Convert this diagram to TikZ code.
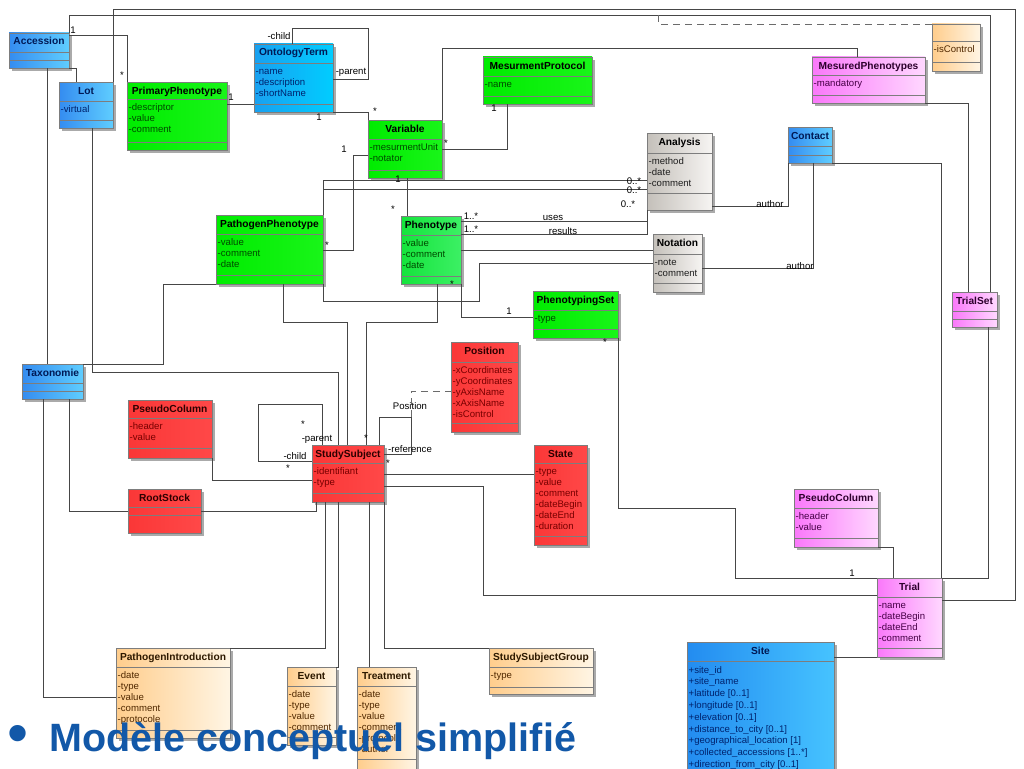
\documentclass[tikz,border=0pt]{standalone}
\usepackage{fontspec}
\setmainfont{Liberation Sans}
\usetikzlibrary{calc}
\definecolor{linec}{RGB}{70,70,70}
\definecolor{bordc}{RGB}{125,125,125}
\definecolor{shad}{RGB}{170,170,170}
\definecolor{blL}{RGB}{52,140,240}\definecolor{blR}{RGB}{95,205,255}
\definecolor{otL}{RGB}{25,160,240}\definecolor{otR}{RGB}{0,205,255}
\definecolor{siL}{RGB}{35,140,240}\definecolor{siR}{RGB}{70,195,255}
\definecolor{grL}{RGB}{0,236,0}\definecolor{grR}{RGB}{25,245,25}
\definecolor{phL}{RGB}{20,228,60}\definecolor{phR}{RGB}{60,240,100}
\definecolor{gyL}{RGB}{196,192,186}\definecolor{gyR}{RGB}{246,244,242}
\definecolor{rdL}{RGB}{250,55,55}\definecolor{rdR}{RGB}{255,72,72}
\definecolor{pkL}{RGB}{250,120,250}\definecolor{pkR}{RGB}{255,215,255}
\definecolor{pcL}{RGB}{255,205,140}\definecolor{pcR}{RGB}{255,245,228}
\definecolor{blt}{RGB}{0,25,85}\definecolor{bla}{RGB}{0,35,110}
\colorlet{ott}{blt}\colorlet{ota}{bla}\colorlet{sit}{blt}\colorlet{sia}{bla}
\definecolor{grt}{RGB}{0,0,0}\definecolor{gra}{RGB}{0,75,0}
\colorlet{pht}{grt}\colorlet{pha}{gra}
\definecolor{gyt}{RGB}{0,0,0}\definecolor{gya}{RGB}{30,30,30}
\definecolor{rdt}{RGB}{45,0,0}\definecolor{rda}{RGB}{120,0,0}
\definecolor{pkt}{RGB}{45,0,45}\definecolor{pka}{RGB}{70,0,70}
\definecolor{pct}{RGB}{45,25,0}\definecolor{pca}{RGB}{80,40,0}
\definecolor{ttlblue}{RGB}{18,88,168}
\tikzset{
  blbox/.style={left color=blL,right color=blR},
  otbox/.style={left color=otL,right color=otR},
  sibox/.style={left color=siL,right color=siR},
  grbox/.style={left color=grL,right color=grR},
  phbox/.style={left color=phL,right color=phR},
  gybox/.style={left color=gyL,right color=gyR},
  rdbox/.style={left color=rdL,right color=rdR},
  pkbox/.style={left color=pkL,right color=pkR},
  pcbox/.style={left color=pcL,right color=pcR},
  ttl/.style={font=\bfseries\fontsize{10.2}{12}\selectfont, inner sep=0pt},
  att/.style={font=\fontsize{9.6}{11}\selectfont, align=left, inner sep=0pt},
  conn/.style={draw=linec, line width=0.8pt},
  assoc/.style={draw=linec!80, line width=0.8pt, dash pattern=on 7pt off 5pt},
  lbl/.style={font=\fontsize{9.6}{10}\selectfont, inner sep=0pt, text=black}
}
% \cls{name}{prefix}{x1}{y1}{x2}{y2}{header bottom}{attr bottom}{title}
\newcommand\cls[9]{%
  \fill[shad] (#3+3,#4+3) rectangle (#5+3,#6+3);
  \node[#2box, draw=bordc, line width=0.6pt, rectangle, inner sep=0pt, outer sep=0pt,
        anchor=north west, minimum width={(#5-#3)*1pt}, minimum height={(#6-#4)*1pt}] (#1) at (#3,#4) {};
  \draw[bordc, line width=0.5pt] (#3,#7) -- (#5,#7) (#3,#8) -- (#5,#8);
  \coordinate (#1-h) at (#3,#7);
  \node[ttl, text=#2t, anchor=base] (#1-t) at ({(#3+#5)/2},#4+12) {#9};
}
\newcommand\atr[3]{\node[att, text=#2a, anchor=north west] (#1-a) at ($(#1-h)+(1.5,4)$) {\vphantom{d}#3};}
\begin{document}
\begin{tikzpicture}[x=1pt,y=-1pt]
\useasboundingbox[fill=white] (0,0) rectangle (1024,768);

% ---------------- classes ----------------
\cls{Accession}{bl}{9}{33}{69}{68}{52}{60}{Accession}
\cls{Lot}{bl}{59}{82}{113}{128}{101}{120}{Lot}
\atr{Lot}{bl}{-virtual}
\cls{PrimaryPhenotype}{gr}{127}{82}{227}{150}{99}{142}{PrimaryPhenotype}
\atr{PrimaryPhenotype}{gr}{-descriptor\\-value\\-comment}
\cls{OntologyTerm}{ot}{254}{44}{333}{112}{63}{104}{OntologyTerm}
\atr{OntologyTerm}{ot}{-name\\-description\\-shortName}
\cls{MesurmentProtocol}{gr}{483}{57}{592}{104}{76}{96}{MesurmentProtocol}
\atr{MesurmentProtocol}{gr}{-name}
\cls{Variable}{gr}{368}{120}{442}{178}{139}{170}{Variable}
\atr{Variable}{gr}{-mesurmentUnit\\-notator}
\cls{Analysis}{gy}{647}{133}{712}{210}{153}{193}{Analysis}
\atr{Analysis}{gy}{-method\\-date\\-comment}
\cls{Contact}{bl}{788}{127}{832}{163}{146}{155}{Contact}
\cls{MesuredPhenotypes}{pk}{812}{57}{925}{103}{75}{95}{MesuredPhenotypes}
\atr{MesuredPhenotypes}{pk}{-mandatory}
\cls{isControl}{pc}{932}{24}{980}{71}{41}{62}{}
\atr{isControl}{pc}{-isControl}
\cls{PathogenPhenotype}{gr}{216}{215}{323}{284}{234}{275}{PathogenPhenotype}
\atr{PathogenPhenotype}{gr}{-value\\-comment\\-date}
\cls{Phenotype}{ph}{401}{216}{461}{284}{235}{276}{Phenotype}
\atr{Phenotype}{ph}{-value\\-comment\\-date}
\cls{Notation}{gy}{653}{234}{702}{292}{254}{283}{Notation}
\atr{Notation}{gy}{-note\\-comment}
\cls{PhenotypingSet}{gr}{533}{291}{618}{338}{310}{329}{PhenotypingSet}
\atr{PhenotypingSet}{gr}{-type}
\cls{TrialSet}{pk}{952}{292}{997}{327}{311}{319}{TrialSet}
\cls{Taxonomie}{bl}{22}{364}{83}{399}{383}{391}{Taxonomie}
\cls{Position}{rd}{451}{342}{518}{432}{362}{423}{Position}
\atr{Position}{rd}{-xCoordinates\\-yCoordinates\\-yAxisName\\-xAxisName\\-isControl}
\cls{PseudoColumnA}{rd}{128}{400}{212}{458}{418}{448}{PseudoColumn}
\atr{PseudoColumnA}{rd}{-header\\-value}
\cls{StudySubject}{rd}{312}{445}{384}{502}{463}{493}{StudySubject}
\atr{StudySubject}{rd}{-identifiant\\-type}
\cls{State}{rd}{534}{445}{587}{545}{463}{536}{State}
\atr{State}{rd}{-type\\-value\\-comment\\-dateBegin\\-dateEnd\\-duration}
\cls{RootStock}{rd}{128}{489}{201}{533}{507}{515}{RootStock}
\cls{PseudoColumnB}{pk}{794}{489}{878}{547}{508}{538}{PseudoColumn}
\atr{PseudoColumnB}{pk}{-header\\-value}
\cls{Trial}{pk}{877}{578}{942}{657}{597}{648}{Trial}
\atr{Trial}{pk}{-name\\-dateBegin\\-dateEnd\\-comment}
\cls{Site}{si}{687}{642}{834}{800}{661}{790}{Site}
\node[att, font=\fontsize{9.6}{11.8}\selectfont, text=sia, anchor=north west] (Site-a) at ($(Site-h)+(1.5,5)$)
  {\vphantom{d}+site\_id\\+site\_name\\+latitude [0..1]\\+longitude [0..1]\\+elevation [0..1]\\+distance\_to\_city [0..1]\\+geographical\_location [1]\\+collected\_accessions [1..*]\\+direction\_from\_city [0..1]};
\cls{PathogenIntroduction}{pc}{116}{648}{230}{738}{667}{730}{PathogenIntroduction}
\atr{PathogenIntroduction}{pc}{-date\\-type\\-value\\-comment\\-protocole}
\cls{Event}{pc}{287}{667}{336}{745}{686}{737}{Event}
\atr{Event}{pc}{-date\\-type\\-value\\-comment}
\cls{Treatment}{pc}{357}{667}{416}{780}{686}{759}{Treatment}
\atr{Treatment}{pc}{-date\\-type\\-value\\-comment\\-protocole\\-author}
\cls{StudySubjectGroup}{pc}{489}{648}{593}{694}{667}{687}{StudySubjectGroup}
\atr{StudySubjectGroup}{pc}{-type}

% ---------------- connectors ----------------
\draw[conn] (Accession.east |- 0,35) -- (127,35) -- (PrimaryPhenotype.north west);
\draw[conn] (Accession.north east) -- (69,15) -- (990,15) -- (TrialSet.north -| 990,0);
\draw[conn] (Lot.north east) -- (113,9) -- (1015,9) -- (1015,600) -- (Trial.east |- 0,600);
\draw[conn] (Accession.south east) -- (76,68) -- (Lot.north -| 76,0);
\draw[conn] (Accession.south -| 47,0) -- (Taxonomie.north -| 47,0);
\draw[conn] (Lot.south -| 92,0) -- (92,372) -- (338,372) -- (StudySubject.north -| 338,0);
\draw[conn] (PrimaryPhenotype.east |- 0,104) -- (OntologyTerm.west |- 0,104);
\draw[conn] (OntologyTerm.north -| 292,0) -- (292,28) -- (368,28) -- (368,79) -- (OntologyTerm.east |- 0,79);
\draw[conn] (OntologyTerm.south east) -- (368,112) -- (Variable.north west);
\draw[conn] (Variable.north east) -- (442,48) -- (857,48) -- (MesuredPhenotypes.north -| 857,0);
\draw[conn] (Variable.east |- 0,149) -- (507,149) -- (MesurmentProtocol.south -| 507,0);
\draw[conn] (Variable.west |- 0,155) -- (353,155) -- (353,250) -- (PathogenPhenotype.east |- 0,250);
\draw[conn] (Variable.south -| 407,0) -- (Phenotype.north -| 407,0);
\draw[conn] (Analysis.west |- 0,180) -- (323,180) -- (PathogenPhenotype.north east);
\draw[conn] (Analysis.west |- 0,189) -- (323,189) -- (PathogenPhenotype.north east);
\draw[conn] (Phenotype.east |- 0,221) -- (647,221) -- (Analysis.south west);
\draw[conn] (Phenotype.east |- 0,234) -- (647,234) -- (Analysis.south west);
\draw[conn] (Phenotype.east |- 0,250) -- (Notation.west |- 0,250);
\draw[conn] (PathogenPhenotype.south east) -- (323,301) -- (479,301) -- (479,263) -- (Notation.west |- 0,263);
\draw[conn] (Phenotype.south east) -- (461,317) -- (PhenotypingSet.west |- 0,317);
\draw[conn] (Phenotype.south -| 437,0) -- (437,322) -- (366,322) -- (StudySubject.north -| 366,0);
\draw[conn] (PathogenPhenotype.south -| 283,0) -- (283,322) -- (347,322) -- (StudySubject.north -| 347,0);
\draw[conn] (Taxonomie.north east) -- (163,364) -- (163,284) -- (PathogenPhenotype.south west);
\draw[conn] (Taxonomie.south -| 69,0) -- (69,511) -- (RootStock.west |- 0,511);
\draw[conn] (RootStock.east |- 0,511) -- (316,511) -- (StudySubject.south -| 316,0);
\draw[conn] (Taxonomie.south -| 43,0) -- (43,697) -- (PathogenIntroduction.west |- 0,697);
\draw[conn] (PseudoColumnA.south east) -- (212,480) -- (StudySubject.west |- 0,480);
\draw[conn] (StudySubject.north -| 322,0) -- (322,404) -- (258,404) -- (258,461) -- (StudySubject.west |- 0,461);
\draw[conn] (StudySubject.north -| 379,0) -- (379,417) -- (411,417) -- (411,454) -- (StudySubject.east |- 0,454);
\draw[assoc] (411,417) -- (411,391) -- (Position.west |- 0,391);
\draw[conn] (StudySubject.east |- 0,474) -- (State.west |- 0,474);
\draw[conn] (StudySubject.east |- 0,486) -- (483,486) -- (483,595) -- (Trial.west |- 0,595);
\draw[conn] (PhenotypingSet.south east) -- (618,508) -- (735,508) -- (735,578) -- (Trial.north west);
\draw[conn] (StudySubject.south -| 325,0) -- (325,648) -- (PathogenIntroduction.north east);
\draw[conn] (StudySubject.south -| 338,0) -- (338,667) -- (Event.north east);
\draw[conn] (StudySubject.south -| 369,0) -- (Treatment.north -| 369,0);
\draw[conn] (StudySubject.south east) -- (384,648) -- (StudySubjectGroup.north west);
\draw[conn] (Site.east |- 0,657) -- (Trial.south west);
\draw[conn] (PseudoColumnB.south east) -- (893,547) -- (Trial.north -| 893,0);
\draw[conn] (TrialSet.south -| 988,0) -- (988,578) -- (Trial.north east);
\draw[conn] (MesuredPhenotypes.south east) -- (968,103) -- (TrialSet.north -| 968,0);
\draw[conn] (Contact.south east) -- (941,163) -- (Trial.north -| 941,0);
\draw[conn] (Contact.south west) -- (788,206) -- (Analysis.east |- 0,206);
\draw[conn] (Contact.south -| 813,0) -- (813,268) -- (Notation.east |- 0,268);
\coordinate (dashstart) at (658,15);
\draw[assoc] (dashstart) -- (658,24) -- (isControl.north west);

% ---------------- labels ----------------
\node[lbl] (l1) at (73,30) {1};
\node[lbl] (l2) at (122,75) {*};
\node[lbl] (l3) at (231,97) {1};
\node[lbl] (l4) at (279,36) {-child};
\node[lbl] (l5) at (351,72) {-parent};
\node[lbl] (l6) at (319,117) {1};
\node[lbl] (l7) at (375,111) {*};
\node[lbl] (l8) at (494,108) {1};
\node[lbl] (l9) at (446,143) {*};
\node[lbl] (l10) at (344,149) {1};
\node[lbl] (l11) at (327,245) {*};
\node[lbl] (l12) at (398,179) {1};
\node[lbl] (l13) at (393,209) {*};
\node[lbl] (l14) at (634,181) {0..*};
\node[lbl] (l15) at (634,190) {0..*};
\node[lbl] (l16) at (628,204) {0..*};
\node[lbl] (l17) at (471,216) {1..*};
\node[lbl] (l18) at (471,229) {1..*};
\node[lbl] (l19) at (553,218) {uses};
\node[lbl] (l20) at (563,231) {results};
\node[lbl] (l21) at (770,204) {author};
\node[lbl] (l22) at (800,266) {author};
\node[lbl] (l23) at (452,284) {*};
\node[lbl] (l24) at (509,311) {1};
\node[lbl] (l25) at (605,342) {*};
\node[lbl] (l26) at (852,573) {1};
\node[lbl] (l27) at (410,406) {Position};
\node[lbl] (l28) at (410,449) {-reference};
\node[lbl] (l29) at (388,463) {*};
\node[lbl] (l30) at (366,438) {*};
\node[lbl] (l31) at (303,424) {*};
\node[lbl] (l32) at (317,439) {-parent};
\node[lbl] (l33) at (295,456) {-child};
\node[lbl] (l34) at (288,468) {*};

% ---------------- title ----------------
\node[inner sep=0pt, font=\fontsize{60}{60}\selectfont, text=ttlblue] (bullet) at (18,739) {•};
\node[anchor=base west, inner sep=0pt, font=\bfseries\fontsize{39.5}{40}\selectfont, text=ttlblue] (title) at (49,751) {Modèle conceptuel simplifié};
\end{tikzpicture}
\end{document}
